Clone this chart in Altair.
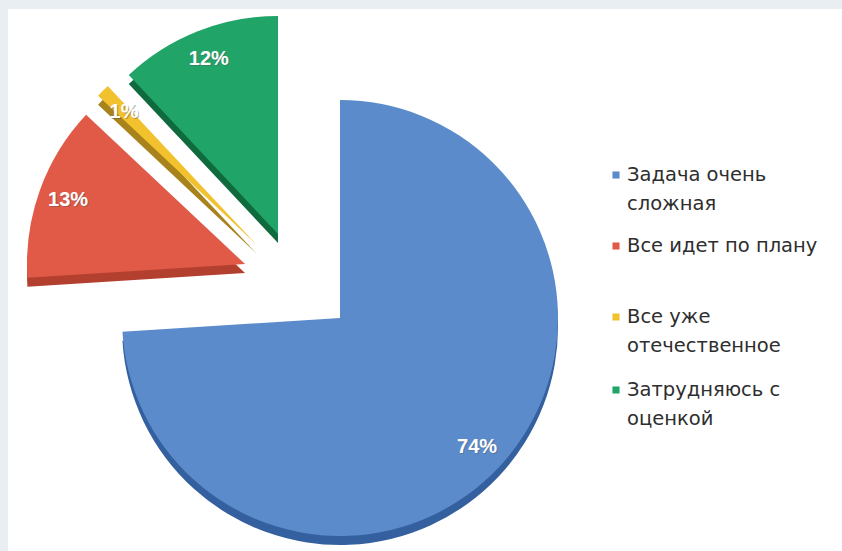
import altair as alt
import pandas as pd

# --- data -------------------------------------------------------------
categories = [
    "Задача очень сложная",
    "Все идет по плану",
    "Все уже отечественное",
    "Затрудняюсь с оценкой",
]
legend_lines = [
    ["Задача очень", "сложная"],
    ["Все идет по плану"],
    ["Все уже", "отечественное"],
    ["Затрудняюсь с", "оценкой"],
]
values = [74, 13, 1, 12]

# --- styling / layout ---------------------------------------------------
face_colors = ["#5b8bcb", "#e05a47", "#f2c12e", "#21a468"]
side_colors = ["#34609f", "#b33f2e", "#a8821a", "#0f6b3e"]

W, H = 842, 551
CX, CY, R = 340, 318, 218          # pie centre and radius
DEPTH = 9                          # visible thickness of the 3D pie
explode = [(0, 0), (-95, -54), (-83, -73), (-62, -84)]
LABEL_R = 188
LABEL_FONT = "Liberation Sans"
LEGEND_FONT = "DejaVu Sans"

LEG_SQ_X, LEG_TX_X = 616, 627
legend_y = [175, 246, 317, 390]
LINE_H = 29

df = pd.DataFrame({"category": categories, "value": values})
df["end"] = df["value"].cumsum()
df["start"] = df["end"] - df["value"]
df["mid"] = (df["start"] + df["end"]) / 2
df["label"] = df["value"].astype(str) + "%"

theta_scale = alt.Scale(domain=[0, 100], range=[0, 6.283185307179586])

# white panel on a light grey-blue frame
panel = alt.Chart(pd.DataFrame({"a": [0]})).mark_rect(color="white").encode(
    x=alt.value(8), x2=alt.value(W), y=alt.value(9), y2=alt.value(H)
)

layers = [panel]
for i, cat in enumerate(categories):
    dx, dy = explode[i]
    base = alt.Chart(df).transform_filter(alt.datum.category == cat)
    side = base.mark_arc(radius=R, color=side_colors[i]).encode(
        theta=alt.Theta("start:Q", stack=None, scale=theta_scale),
        theta2="end:Q",
        x=alt.value(CX + dx),
        y=alt.value(CY + dy + DEPTH),
    )
    face = base.mark_arc(radius=R, color=face_colors[i]).encode(
        theta=alt.Theta("start:Q", stack=None, scale=theta_scale),
        theta2="end:Q",
        x=alt.value(CX + dx),
        y=alt.value(CY + dy),
    )
    shadow = base.mark_text(
        radius=LABEL_R, font=LABEL_FONT, fontSize=20, fontWeight="bold",
        color="#555555", opacity=0.4,
    ).encode(
        theta=alt.Theta("mid:Q", stack=None, scale=theta_scale),
        text="label:N",
        x=alt.value(CX + dx + 1),
        y=alt.value(CY + dy + 1),
    )
    label = base.mark_text(
        radius=LABEL_R, font=LABEL_FONT, fontSize=20, fontWeight="bold", color="white"
    ).encode(
        theta=alt.Theta("mid:Q", stack=None, scale=theta_scale),
        text="label:N",
        x=alt.value(CX + dx),
        y=alt.value(CY + dy),
    )
    layers += [side, face, shadow, label]

# legend drawn as marks so that the labels can wrap
leg_rows = []
for i, cat in enumerate(categories):
    for j, line in enumerate(legend_lines[i]):
        leg_rows.append({"category": cat, "text": line, "ly": legend_y[i] + j * LINE_H, "first": j == 0})
leg_df = pd.DataFrame(leg_rows)

leg_sq = alt.Chart(leg_df).transform_filter(alt.datum.first).mark_square(
    size=50, opacity=1
).encode(
    x=alt.value(LEG_SQ_X),
    y=alt.Y("ly:Q", scale=None),
    color=alt.Color("category:N", scale=alt.Scale(domain=categories, range=face_colors), legend=None),
)
leg_tx = alt.Chart(leg_df).mark_text(
    align="left", baseline="middle", font=LEGEND_FONT, fontSize=19.5, color="#2e2e2e"
).encode(
    x=alt.value(LEG_TX_X),
    y=alt.Y("ly:Q", scale=None),
    text="text:N",
)
layers += [leg_sq, leg_tx]

chart = alt.layer(*layers).properties(
    width=W, height=H, padding=0, autosize=alt.AutoSizeParams(type="none"),
    background="#e9eef2",
).configure_view(stroke=None)

chart.save("out.html", embed_options={"renderer": "svg", "actions": False})
